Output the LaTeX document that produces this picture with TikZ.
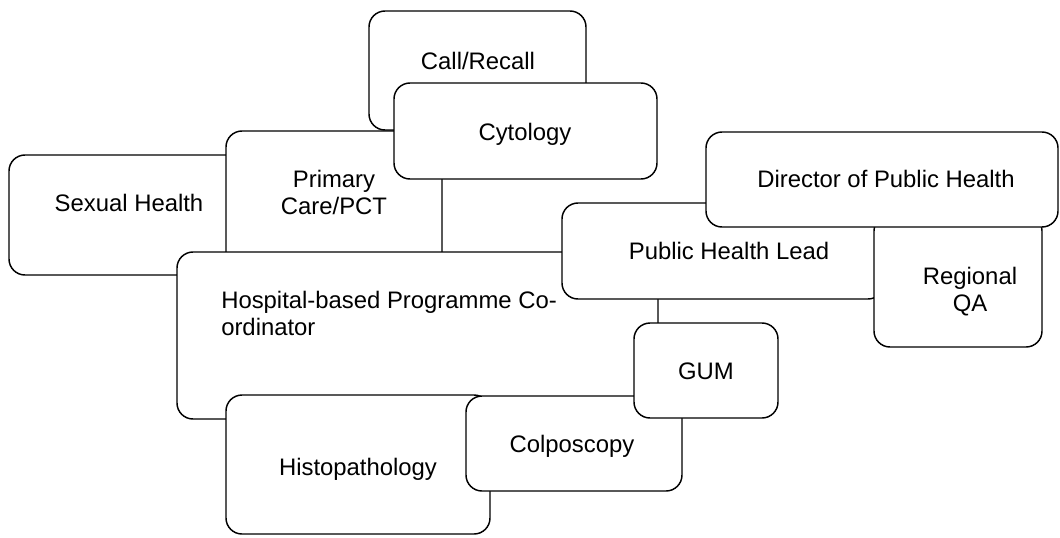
\documentclass[tikz,border=0pt]{standalone}
\usepackage{fontspec}
\setmainfont{Liberation Sans}

\tikzset{
  box/.style={draw, fill=white, line width=1.1pt, rounded corners=12pt},
  lbl/.style={font=\fontsize{17.9}{20.25}\selectfont, inner sep=0pt, align=center, anchor=base}
}

\begin{document}
\begin{tikzpicture}[x=0.75pt,y=0.75pt,yscale=-1,xscale=1]
        \useasboundingbox (0,0) rectangle (1060,537);

        %Shape: Rounded Rect [Call/Recall]
        \draw [box] (369,11) rectangle (586,130) ;
        %Shape: Rounded Rect [Sexual Health]
        \draw [box] (9,155) rectangle (249,275) ;
        %Shape: Rounded Rect [Primary Care]
        \draw [box] (226,131) rectangle (442,280) ;
        %Shape: Rounded Rect [Hospital Co-ordinator]
        \draw [box] (177,252) rectangle (658,419) ;
        %Shape: Rounded Rect [Cytology]
        \draw [box] (394,83) rectangle (657,179) ;
        %Shape: Rounded Rect [Public Health Lead]
        \draw [box] (562,203) rectangle (884,299) ;
        %Shape: Rounded Rect [Regional QA]
        \draw [box] (874,215) rectangle (1042,347) ;
        %Shape: Rounded Rect [Director]
        \draw [box] (706,132) rectangle (1058,227) ;
        %Shape: Rounded Rect [Histopathology]
        \draw [box] (226,395) rectangle (490,534) ;
        %Shape: Rounded Rect [Colposcopy]
        \draw [box] (466,396) rectangle (682,491) ;
        %Shape: Rounded Rect [GUM]
        \draw [box] (634,323) rectangle (778,418) ;

        % Text Node
        \draw (478,69) node [lbl] (callTxt) {Call/Recall};
        % Text Node
        \draw (525,140) node [lbl] (cytoTxt) {Cytology};
        % Text Node
        \draw (129,211) node [lbl] (sexTxt) {Sexual Health};
        % Text Node
        \draw (334,214) node [lbl] (pctTxt) {Primary\\Care/PCT};
        % Text Node
        \draw (221,335) node [lbl, anchor=base west, align=left] (hospTxt) {Hospital-based Programme Co-\\ordinator};
        % Text Node
        \draw (729,259) node [lbl] (phlTxt) {Public Health Lead};
        % Text Node
        \draw (886,187) node [lbl] (dphTxt) {Director of Public Health};
        % Text Node
        \draw (970,311) node [lbl] (qaTxt) {Regional\\QA};
        % Text Node
        \draw (358,475) node [lbl] (histoTxt) {Histopathology};
        % Text Node
        \draw (572,452) node [lbl] (colpoTxt) {Colposcopy};
        % Text Node
        \draw (706,379) node [lbl] (gumTxt) {GUM};

\end{tikzpicture}
\end{document}
